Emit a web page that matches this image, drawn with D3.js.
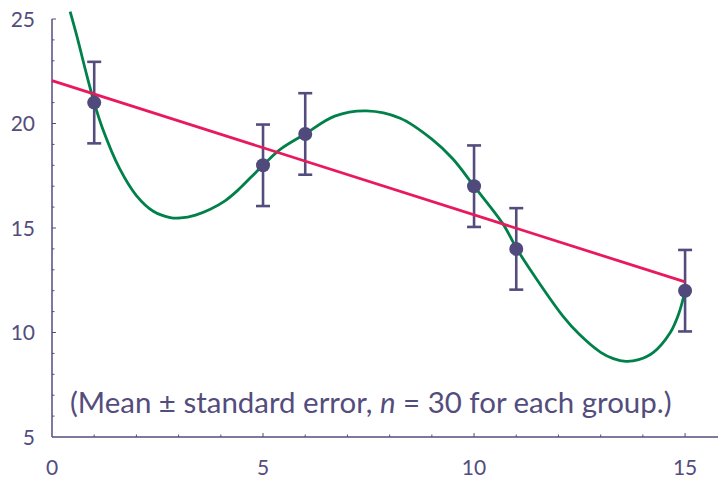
<!DOCTYPE html>
<html>
<head>
<meta charset="utf-8">
<script src="https://cdn.jsdelivr.net/npm/d3@7"></script>
<style>
  html, body { margin: 0; padding: 0; background: #fff; }
  svg { display: block; }
  text { font-family: Lato, "Open Sans", sans-serif; fill: #534d7d; }
</style>
</head>
<body>
<svg id="chart" width="718" height="479"></svg>
<script>
// ---- data ----
const groupX = [1, 5, 6, 10, 11, 15];
const groupMean = [21, 18, 19.5, 17, 14, 12];
const groupSE = [1.95, 1.95, 1.95, 1.95, 1.95, 1.95];

const fitLineX = [0, 15];
const fitLineY = [22.05, 12.42];

const curveX = [0.43, 0.6, 0.8, 1.0, 1.2, 1.6, 2.0, 2.4, 2.8, 3.05, 3.4, 3.75, 4.1, 4.4, 4.7, 5.0, 5.4, 6.0, 6.7, 7.45, 8.25, 9.0, 9.5, 10.0, 10.7, 11.0, 11.5, 12.1, 12.5, 13.0, 13.3, 13.6, 13.9, 14.25, 14.65, 14.85, 15.0];
const curveY = [25.35, 24.1, 22.5, 21.0, 19.75, 17.85, 16.55, 15.8, 15.5, 15.48, 15.62, 15.9, 16.3, 16.8, 17.4, 18.0, 18.75, 19.5, 20.35, 20.6, 20.25, 19.25, 18.3, 17.0, 15.15, 14.05, 12.5, 10.8, 9.9, 9.05, 8.75, 8.62, 8.7, 9.05, 10.0, 10.9, 12.0];

const xTickLabels = [0, 5, 10, 15];
const yTickLabels = [5, 10, 15, 20, 25];
const note = ["(Mean ± standard error, ", "n", " = 30 for each group.)"];

// ---- drawing ----
const ink = "#534d7d";
const svg = d3.select("#chart");
const x = d3.scaleLinear().domain([0, 15.78]).range([52, 718]);
const y = d3.scaleLinear().domain([5, 25]).range([437, 19]);

// axes
const gx = svg.append("g").attr("transform", `translate(0,${y(5)})`);
gx.append("line").attr("x1", x(0)).attr("x2", 718).attr("stroke", ink).attr("stroke-width", 1.5);
gx.selectAll("line.t").data(d3.range(1, 16)).join("line")
  .attr("class", "t")
  .attr("x1", d => x(d)).attr("x2", d => x(d))
  .attr("y1", 0).attr("y2", d => d % 5 === 0 ? -4 : -2.5)
  .attr("stroke", ink).attr("stroke-width", 1);
gx.selectAll("text").data(xTickLabels).join("text")
  .attr("x", d => x(d)).attr("y", 38)
  .attr("text-anchor", "middle")
  .attr("font-size", 21)
  .text(d => d);

const gy = svg.append("g").attr("transform", `translate(${x(0)},0)`);
gy.append("line").attr("y1", y(5)).attr("y2", y(25)).attr("stroke", ink).attr("stroke-width", 1.5);
gy.selectAll("line.t").data(d3.range(6, 26)).join("line")
  .attr("class", "t")
  .attr("y1", d => y(d)).attr("y2", d => y(d))
  .attr("x1", 0).attr("x2", d => d % 5 === 0 ? 4 : 2.5)
  .attr("stroke", ink).attr("stroke-width", 1);
gy.selectAll("text").data(yTickLabels).join("text")
  .attr("x", -17).attr("y", d => y(d))
  .attr("dy", "0.36em")
  .attr("text-anchor", "end")
  .attr("font-size", 21)
  .text(d => d);

const pts = groupX.map((d, i) => ({ x: d, m: groupMean[i], se: groupSE[i] }));

// error bars
const eb = svg.append("g").attr("stroke", ink).attr("stroke-width", 2.6).attr("fill", "none");
pts.forEach(p => {
  eb.append("line").attr("x1", x(p.x)).attr("x2", x(p.x)).attr("y1", y(p.m - p.se)).attr("y2", y(p.m + p.se));
  eb.append("line").attr("x1", x(p.x) - 7).attr("x2", x(p.x) + 7).attr("y1", y(p.m - p.se)).attr("y2", y(p.m - p.se));
  eb.append("line").attr("x1", x(p.x) - 7).attr("x2", x(p.x) + 7).attr("y1", y(p.m + p.se)).attr("y2", y(p.m + p.se));
});

// green curve
const curvePts = curveX.map((d, i) => [d, curveY[i]]);
svg.append("path")
  .attr("d", d3.line().x(d => x(d[0])).y(d => y(d[1])).curve(d3.curveCatmullRom.alpha(0.5))(curvePts))
  .attr("fill", "none").attr("stroke", "#00804a").attr("stroke-width", 2.8);

// red line
const linePts = fitLineX.map((d, i) => [d, fitLineY[i]]);
svg.append("path")
  .attr("d", d3.line().x(d => x(d[0])).y(d => y(d[1]))(linePts))
  .attr("fill", "none").attr("stroke", "#e8195c").attr("stroke-width", 2.8);

// points
svg.append("g").selectAll("circle").data(pts).join("circle")
  .attr("cx", d => x(d.x)).attr("cy", d => y(d.m)).attr("r", 7)
  .attr("fill", "#4f4a7b");

// note
const t = svg.append("text").attr("x", 70).attr("y", 413).attr("font-size", 25);
t.append("tspan").text(note[0]);
t.append("tspan").attr("font-style", "italic").text(note[1]);
t.append("tspan").text(note[2]);
const w = t.node().getComputedTextLength();
t.attr("font-size", 25 * 602 / w);
</script>
</body>
</html>
